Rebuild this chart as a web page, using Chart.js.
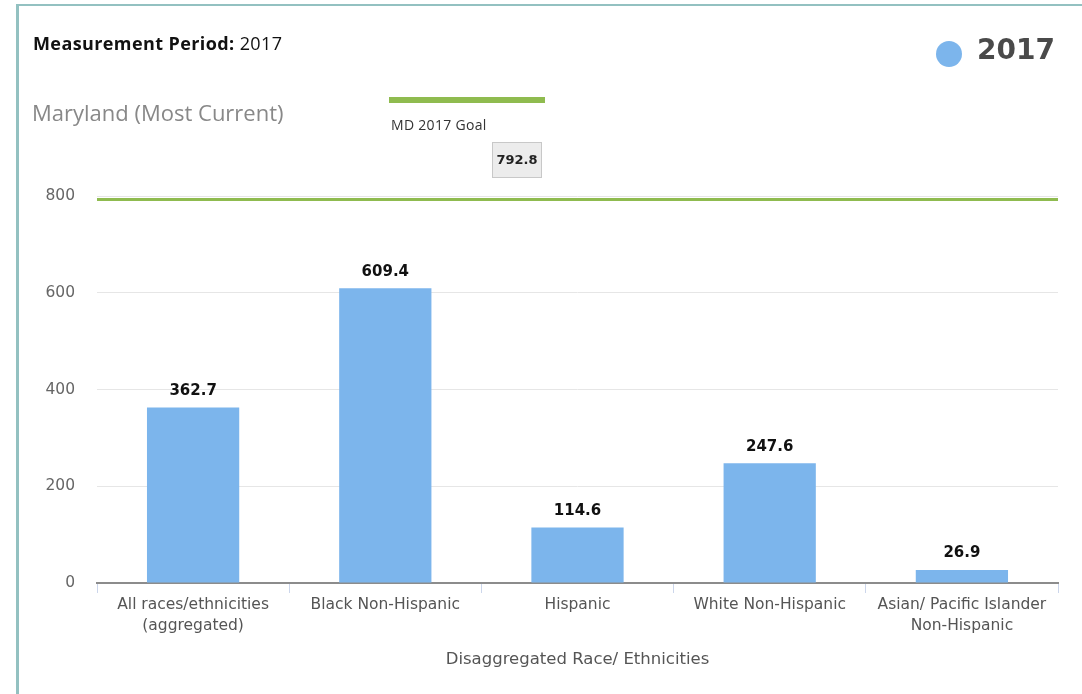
<!DOCTYPE html>
<html>
<head>
<meta charset="utf-8">
<script src="https://cdn.jsdelivr.net/npm/chart.js@4"></script>
<style>
  body { margin:0; background:#fff; }
  #wrap { position:relative; width:1082px; height:694px; overflow:hidden; }
  #frame { position:absolute; left:16px; top:4px; width:1100px; height:700px;
           border-left:3px solid #93c1c1; border-top:2px solid #93c1c1; }
  canvas { position:absolute; left:0; top:0; }
  .txt { position:absolute; white-space:nowrap; }
  #period { left:33px; top:31px; font:18px "Open Sans", sans-serif; color:#111; letter-spacing:0.4px; }
  #region { left:32px; top:97px; font:22px "Open Sans", sans-serif; color:#888; }
  #goalbar { position:absolute; left:389px; top:97px; width:156px; height:6px; background:#8fbb4f; }
  #goallbl { left:391px; top:115px; font:14px "Open Sans", sans-serif; color:#333; letter-spacing:0.3px; }
  #goalbox { position:absolute; left:492px; top:142px; width:48px; height:34px; background:#ececec;
             border:1px solid #c8c8c8; font:bold 13px "DejaVu Sans", sans-serif; color:#222;
             text-align:center; line-height:34px; }
  #legdot { position:absolute; left:936px; top:41px; width:26px; height:26px; border-radius:50%; background:#7cb5ec; }
  #legtxt { left:977px; top:33px; font:bold 28px "DejaVu Sans", sans-serif; color:#4a4a4a; }
</style>
</head>
<body>
<div id="wrap">
  <div id="frame"></div>
  <canvas id="chart" width="1082" height="694"></canvas>
  <div class="txt" id="period"><b>Measurement Period:</b> 2017</div>
  <div class="txt" id="region">Maryland (Most Current)</div>
  <div id="goalbar"></div>
  <div class="txt" id="goallbl">MD 2017 Goal</div>
  <div id="goalbox"></div>
  <div id="legdot"></div>
  <div class="txt" id="legtxt"></div>
</div>
<script>
var categories = [
  ["All races/ethnicities", "(aggregated)"],
  "Black Non-Hispanic",
  "Hispanic",
  "White Non-Hispanic",
  ["Asian/ Pacific Islander", "Non-Hispanic"]
];
var values2017 = [362.7, 609.4, 114.6, 247.6, 26.9];
var goalValue = [792.8];
var yTicks = [0, 200, 400, 600, 800];
var seriesName = "2017";

document.getElementById('goalbox').textContent = goalValue[0].toFixed(1);
document.getElementById('legtxt').textContent = seriesName;

// value labels on top of the bars
var barLabels = {
  id: 'barLabels',
  afterDatasetsDraw: function(chart){
    var ctx = chart.ctx;
    var meta = chart.getDatasetMeta(0);
    ctx.save();
    ctx.font = 'bold 15px "DejaVu Sans", sans-serif';
    ctx.fillStyle = '#111';
    ctx.textAlign = 'center';
    ctx.textBaseline = 'bottom';
    meta.data.forEach(function(bar, i){
      ctx.fillText(values2017[i].toFixed(1), bar.x, bar.y - 9);
    });
    ctx.restore();
  }
};

// goal line across the whole plot
var goalLine = {
  id: 'goalLine',
  beforeDatasetsDraw: function(chart){
    var ctx = chart.ctx, area = chart.chartArea;
    var y = chart.scales.y.getPixelForValue(goalValue[0]);
    ctx.save();
    ctx.strokeStyle = '#8fbb4f';
    ctx.lineWidth = 3;
    ctx.beginPath();
    ctx.moveTo(area.left, y);
    ctx.lineTo(area.right, y);
    ctx.stroke();
    ctx.restore();
  }
};

var ctx = document.getElementById('chart').getContext('2d');
var chart = new Chart(ctx, {
  type: 'bar',
  data: {
    labels: categories,
    datasets: [{
      label: seriesName,
      data: values2017,
      backgroundColor: '#7cb5ec',
      borderWidth: 0,
      barPercentage: 0.48,
      categoryPercentage: 1
    }]
  },
  options: {
    responsive: false,
    animation: false,
    layout: { padding: { left: 0, right: 24, top: 196, bottom: 0 } },
    plugins: { legend: { display: false }, tooltip: { enabled: false } },
    scales: {
      x: {
        grid: { offset: true, drawOnChartArea: false, drawTicks: true, tickLength: 10, color: '#ccd6eb' },
        border: { display: true, color: '#8c8c8c', width: 2 },
        ticks: { color: '#555', font: { family: 'DejaVu Sans', size: 15.5, lineHeight: 1.35 }, padding: 2, maxRotation: 0, autoSkip: false },
        title: { display: true, text: 'Disaggregated Race/ Ethnicities', color: '#555',
                 font: { family: 'DejaVu Sans', size: 16.5 }, padding: { top: 0, bottom: 24 } },
        afterFit: function(s){ s.height = 111; }
      },
      y: {
        min: 0, max: 800,
        afterBuildTicks: function(s){ s.ticks = yTicks.map(function(v){ return { value: v }; }); },
        grid: { color: '#e6e6e6', drawTicks: false },
        border: { display: false },
        ticks: { color: '#666', font: { family: 'DejaVu Sans', size: 15.5 }, padding: 22 },
        afterFit: function(s){ s.width = 97; }
      }
    }
  },
  plugins: [goalLine, barLabels]
});
</script>
</body>
</html>
